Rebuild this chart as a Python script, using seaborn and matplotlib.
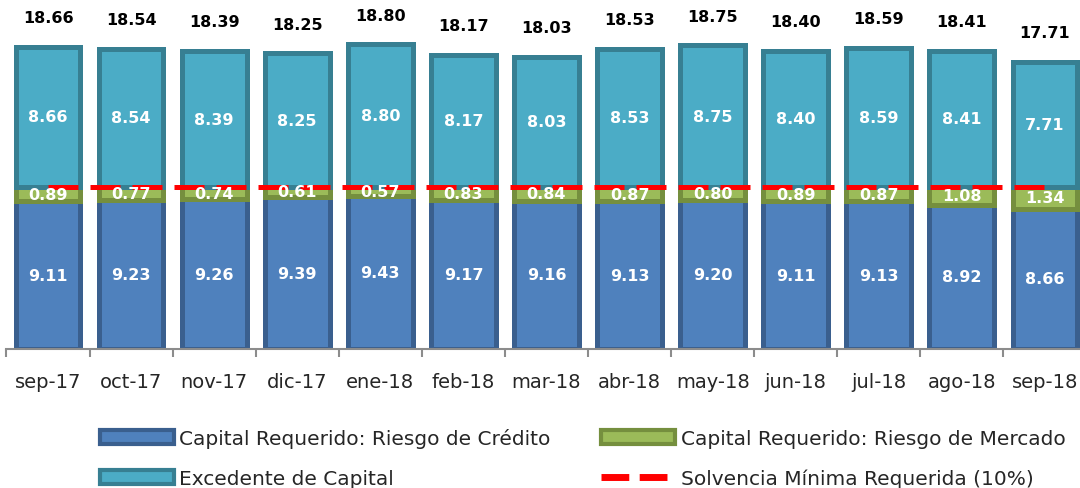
import numpy as np
import pandas as pd
import seaborn as sns
import matplotlib.pyplot as plt
from matplotlib.patches import Patch
from matplotlib.lines import Line2D

meses = ['sep-17', 'oct-17', 'nov-17', 'dic-17', 'ene-18', 'feb-18', 'mar-18',
         'abr-18', 'may-18', 'jun-18', 'jul-18', 'ago-18', 'sep-18']
riesgo_credito = [9.11, 9.23, 9.26, 9.39, 9.43, 9.17, 9.16, 9.13, 9.20, 9.11, 9.13, 8.92, 8.66]
riesgo_mercado = [0.89, 0.77, 0.74, 0.61, 0.57, 0.83, 0.84, 0.87, 0.80, 0.89, 0.87, 1.08, 1.34]
excedente = [8.66, 8.54, 8.39, 8.25, 8.80, 8.17, 8.03, 8.53, 8.75, 8.40, 8.59, 8.41, 7.71]
totales = [18.66, 18.54, 18.39, 18.25, 18.80, 18.17, 18.03, 18.53, 18.75, 18.40, 18.59, 18.41, 17.71]
solvencia = [10.0] * 13

df = pd.DataFrame({'mes': meses, 'credito': riesgo_credito, 'mercado': riesgo_mercado,
                   'excedente': excedente, 'total': totales, 'solvencia': solvencia})
df['base_exc'] = df['credito'] + df['mercado']

sns.set_style('white')
plt.rcParams['font.family'] = ['DejaVu Sans']

azul, azul_borde = '#4F81BD', '#3A5F8E'
verde, verde_borde = '#9BBB59', '#758F3E'
celeste, celeste_borde = '#4BACC6', '#377F92'

fig = plt.figure(figsize=(10.8, 4.89), dpi=100)
ax = fig.add_axes([0.006, 0.284, 1.0, 0.716])

w = 0.78
lw = 3.6
sns.barplot(data=df, x='mes', y='credito', color=azul, width=w, ax=ax,
            saturation=1, edgecolor=azul_borde, linewidth=lw)
sns.barplot(data=df, x='mes', y='mercado', color=verde, width=w, ax=ax,
            saturation=1, edgecolor=verde_borde, linewidth=lw, bottom=df['credito'])
sns.barplot(data=df, x='mes', y='excedente', color=celeste, width=w, ax=ax,
            saturation=1, edgecolor=celeste_borde, linewidth=lw, bottom=df['base_exc'])
sns.lineplot(x=np.arange(len(meses)), y=df['solvencia'], color='#FF0000', lw=3.6, ax=ax)
ax.lines[-1].set_dashes((6, 2.4))

for i, r in df.iterrows():
    ax.text(i, r['credito'] / 2, f"{r['credito']:.2f}", ha='center', va='center',
            color='white', fontsize=11.5, fontweight='bold')
    ax.text(i, r['credito'] + r['mercado'] / 2, f"{r['mercado']:.2f}", ha='center',
            va='center', color='white', fontsize=11.5, fontweight='bold')
    ax.text(i, r['base_exc'] + r['excedente'] / 2, f"{r['excedente']:.2f}", ha='center',
            va='center', color='white', fontsize=11.5, fontweight='bold')
    ax.annotate(f"{r['total']:.2f}", (i, r['total']), xytext=(0, 21),
                textcoords='offset points', ha='center', va='center',
                color='black', fontsize=11.5, fontweight='bold')

ax.set_xlim(-0.5, 12.5)
ax.set_ylim(0, 21.6)
ax.set_xlabel('')
ax.set_ylabel('')
ax.set_yticks([])
sns.despine(ax=ax, left=True)
ax.spines['bottom'].set_color('#8C8C8C')
ax.spines['bottom'].set_linewidth(1.5)
ax.set_xticks(np.arange(-0.5, 13, 1), minor=True)
ax.tick_params(axis='x', which='major', bottom=False, labelsize=14, pad=13)
ax.tick_params(axis='x', which='minor', bottom=True, length=6, width=1.5,
               color='#8C8C8C', direction='out')

handles = [
    Patch(facecolor=azul, edgecolor=azul_borde, linewidth=3),
    Patch(facecolor=celeste, edgecolor=celeste_borde, linewidth=3),
    Patch(facecolor=verde, edgecolor=verde_borde, linewidth=3),
    Line2D([0], [0], color='#FF0000', lw=5, dashes=(4, 1.5)),
]
labels = ['Capital Requerido: Riesgo de Crédito', 'Excedente de Capital',
          'Capital Requerido: Riesgo de Mercado', 'Solvencia Mínima Requerida (10%)']
fig.legend(handles, labels, ncol=2, loc='upper left', bbox_to_anchor=(0.083, 0.144),
           frameon=False, borderpad=0, fontsize=14.5, handlelength=3.7,
           handletextpad=0.25, columnspacing=2.5, labelspacing=1.05)

fig.savefig('out.png', dpi=100)
